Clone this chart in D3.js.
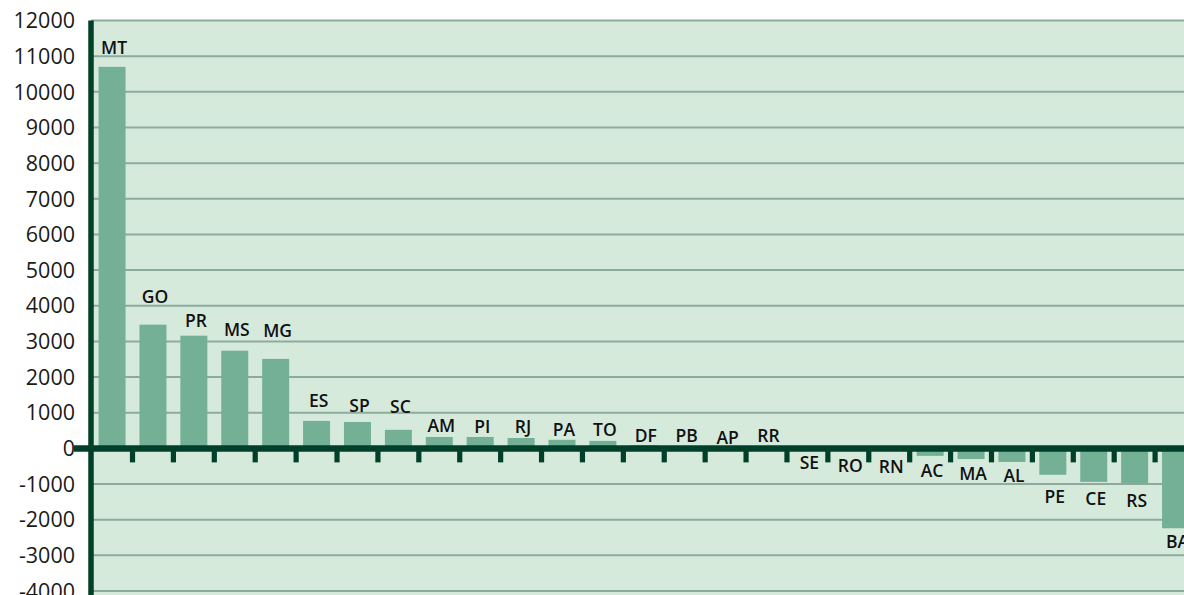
<!DOCTYPE html>
<html>
<head>
<meta charset="utf-8">
<script src="https://cdn.jsdelivr.net/npm/d3@7"></script>
<style>
  html, body { margin: 0; padding: 0; background: #ffffff; }
  svg { display: block; }
</style>
</head>
<body>
<svg id="chart" width="1184" height="595"></svg>
<script>
const states = ["MT","GO","PR","MS","MG","ES","SP","SC","AM","PI","RJ","PA","TO","DF","PB","AP","RR","SE","RO","RN","AC","MA","AL","PE","CE","RS","BA"];
const values = [10700,3470,3160,2740,2510,770,740,520,320,320,290,240,210,90,60,20,15,-30,-40,-50,-210,-300,-380,-740,-940,-980,-2240];
// label anchor (baseline) expressed in data units
const labelAt = [11070,4080,3410,3160,3130,1165,1025,1000,463,435,435,351,351,182,182,126,182,-575,-660,-690,-800,-884,-940,-1530,-1590,-1640,-2800];
const tickValues = [12000,11000,10000,9000,8000,7000,6000,5000,4000,3000,2000,1000,0,-1000,-2000,-3000,-4000];

const svg = d3.select("#chart");
const plotLeft = 91, plotTop = 20.5, plotBottom = 591;

const y = d3.scaleLinear().domain([-4000, 12000]).range([plotBottom, plotTop]);
const x = d3.scaleBand().domain(states).range([91.6, 1196]).paddingInner(0.34).paddingOuter(0.17);

// plot background
svg.append("rect").attr("x", plotLeft).attr("y", plotTop).attr("width", 1184 - plotLeft).attr("height", 595 - plotTop).attr("fill", "#d6eadc");

// gridlines
svg.append("g").selectAll("line").data(tickValues.filter(d => d !== 0)).join("line")
  .attr("x1", plotLeft).attr("x2", 1184)
  .attr("y1", d => y(d)).attr("y2", d => y(d))
  .attr("stroke", "#8dab9c").attr("stroke-width", 2);

// bars
svg.append("g").selectAll("rect").data(states).join("rect")
  .attr("x", (d) => x(d))
  .attr("width", x.bandwidth())
  .attr("y", (d, i) => y(Math.max(0, values[i])))
  .attr("height", (d, i) => Math.abs(y(values[i]) - y(0)))
  .attr("fill", "#73b095");

// zero line
svg.append("line").attr("x1", 74).attr("x2", 1184).attr("y1", y(0)).attr("y2", y(0))
  .attr("stroke", "#00402a").attr("stroke-width", 6.5);

// category boundary ticks under zero line
const step = x.step();
const bounds = states.slice(1).map(s => x(s) - (step - x.bandwidth()) / 2);
svg.append("g").selectAll("rect").data(bounds).join("rect")
  .attr("x", d => d - 2.6).attr("width", 5.2)
  .attr("y", y(0)).attr("height", 14)
  .attr("fill", "#00402a");

// left axis line
svg.append("line").attr("x1", 91).attr("x2", 91).attr("y1", plotTop).attr("y2", 595)
  .attr("stroke", "#00402a").attr("stroke-width", 5.5);

// y tick labels
svg.append("g").selectAll("text").data(tickValues).join("text")
  .attr("x", 75).attr("y", d => y(d))
  .attr("dy", "0.36em")
  .attr("text-anchor", "end")
  .attr("font-family", "'Open Sans', sans-serif")
  .attr("font-size", 21.5)
  .attr("fill", "#1a1a1a")
  .text(d => d);

// state labels
svg.append("g").selectAll("text").data(states).join("text")
  .attr("x", d => x(d) + x.bandwidth() / 2 + 2)
  .attr("y", (d, i) => y(labelAt[i]))
  .attr("text-anchor", "middle")
  .attr("font-family", "'Open Sans', sans-serif")
  .attr("font-weight", 600)
  .attr("font-size", 17.5)
  .attr("fill", "#111")
  .text(d => d);
</script>
</body>
</html>
